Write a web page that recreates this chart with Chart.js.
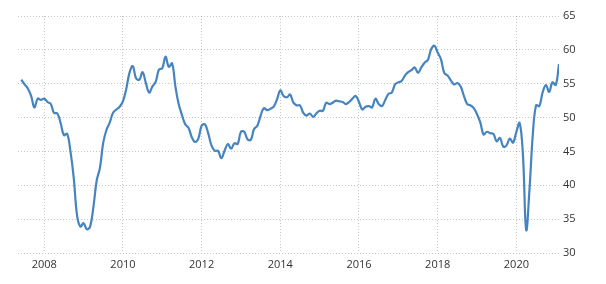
<!DOCTYPE html>
<html>
<head>
<meta charset="utf-8">
<script src="https://cdn.jsdelivr.net/npm/chart.js@4"></script>
<style>
    html, body { margin: 0; padding: 0; background: #fff; }
    #wrap { width: 606px; height: 284px; }
</style>
</head>
<body>
<div id="wrap"><canvas id="chart"></canvas></div>
<script>
// first month of the series (Jun 2007), months counted from Jan 2007
const firstMonth = 5;

// monthly readings, Jun 2007 .. Feb 2021
const values = [
    55.6, 54.9, 54.3, 53.2, 51.5, 52.8, 52.6,                               // 2007
    52.8, 52.3, 52.0, 50.7, 50.6, 49.2, 47.4, 47.6, 45.0, 41.1, 35.6, 33.9, // 2008
    34.4, 33.5, 33.9, 36.8, 40.7, 42.6, 46.3, 48.2, 49.3, 50.7, 51.2, 51.6, // 2009
    52.4, 54.2, 56.6, 57.6, 55.8, 55.6, 56.7, 55.1, 53.7, 54.6, 55.3, 57.1, // 2010
    57.3, 59.0, 57.5, 58.0, 54.6, 52.0, 50.4, 49.0, 48.5, 47.1, 46.4, 46.9, // 2011
    48.8, 49.0, 47.7, 45.9, 45.1, 45.1, 44.0, 45.1, 46.1, 45.4, 46.2, 46.1, // 2012
    47.9, 47.9, 46.8, 46.7, 48.3, 48.8, 50.3, 51.4, 51.1, 51.3, 51.6, 52.7, // 2013
    54.0, 53.2, 53.0, 53.4, 52.2, 51.8, 51.8, 50.7, 50.3, 50.6, 50.1, 50.6, // 2014
    51.0, 51.0, 52.2, 52.0, 52.2, 52.5, 52.4, 52.3, 52.0, 52.3, 52.8, 53.2, // 2015
    52.3, 51.2, 51.6, 51.7, 51.5, 52.8, 52.0, 51.7, 52.6, 53.5, 53.7, 54.9, // 2016
    55.2, 55.4, 56.2, 56.7, 57.0, 57.4, 56.6, 57.4, 58.1, 58.5, 60.1, 60.6, // 2017
    59.6, 58.6, 56.6, 56.2, 55.5, 54.9, 55.1, 54.6, 53.2, 52.0, 51.8, 51.4, // 2018
    50.5, 49.3, 47.5, 47.9, 47.7, 47.6, 46.5, 47.0, 45.7, 45.9, 46.9, 46.3, // 2019
    47.9, 49.2, 44.5, 33.4, 39.4, 47.4, 51.8, 51.7, 53.7, 54.8, 53.8, 55.2, // 2020
    54.8, 57.9                                                              // 2021
];

// x tick labels (January of each)
const yearTicks = [2008, 2010, 2012, 2014, 2016, 2018, 2020];
// y tick labels
const yTicks = [30, 35, 40, 45, 50, 55, 60, 65];

const points = values.map((v, i) => ({ x: firstMonth + i, y: v }));
const tickFont = { family: 'Open Sans, DejaVu Sans, sans-serif', size: 11 };
const gridColor = 'rgba(0, 0, 0, 0.22)';

new Chart(document.getElementById('chart'), {
    type: 'line',
    data: {
        datasets: [{
            data: points,
            borderColor: '#4684c0',
            borderWidth: 2.2,
            pointRadius: 0,
            tension: 0.4,
            fill: false
        }]
    },
    options: {
        responsive: true,
        maintainAspectRatio: false,
        animation: false,
        layout: { padding: { left: 18, top: 16, right: 0, bottom: 0 } },
        plugins: { legend: { display: false }, tooltip: { enabled: false } },
        scales: {
            x: {
                type: 'linear',
                min: 4,
                max: 169,
                border: { display: false, dash: [1, 2] },
                grid: { color: gridColor, lineWidth: 1, drawTicks: false },
                afterBuildTicks: scale => {
                    scale.ticks = yearTicks.map(y => ({ value: (y - 2007) * 12 }));
                },
                afterFit: scale => { scale.height = 31; },
                ticks: {
                    padding: 5,
                    color: '#333',
                    font: tickFont,
                    maxRotation: 0,
                    autoSkip: false,
                    callback: v => String(2007 + v / 12)
                }
            },
            y: {
                position: 'right',
                min: 30,
                max: 65,
                border: { display: false, dash: [1, 2] },
                grid: { color: gridColor, lineWidth: 1, drawTicks: false },
                afterBuildTicks: scale => {
                    scale.ticks = yTicks.map(v => ({ value: v }));
                },
                afterFit: scale => { scale.width = 47; },
                ticks: {
                    padding: 4,
                    color: '#333',
                    font: tickFont
                }
            }
        }
    }
});
</script>
</body>
</html>
